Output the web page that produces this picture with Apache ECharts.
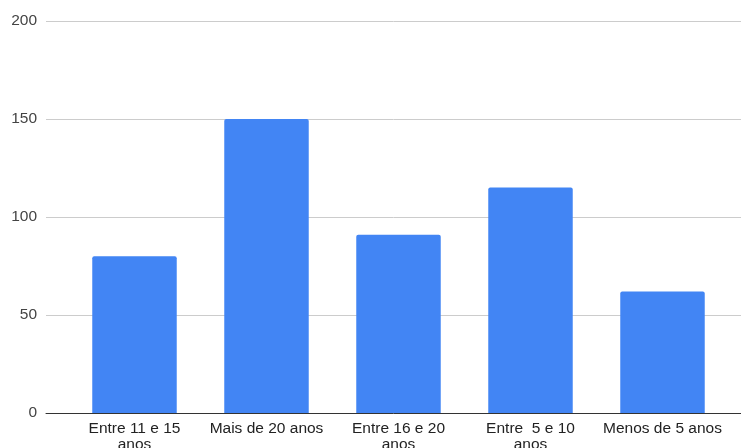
<!DOCTYPE html>
<html>
<head>
<meta charset="utf-8">
<script src="https://cdn.jsdelivr.net/npm/echarts@6/dist/echarts.min.js"></script>
<style>html,body{margin:0;padding:0;background:#fff;}#c{width:741px;height:448px;}</style>
</head>
<body>
<div id="c"></div>
<script>
const categories = ["Entre 11 e 15 anos", "Mais de 20 anos", "Entre 16 e 20 anos", "Entre  5 e 10 anos", "Menos de 5 anos"];
const tickLabels = ["Entre 11 e 15\nanos", "Mais de 20 anos", "Entre 16 e 20\nanos", "Entre  5 e 10\nanos", "Menos de 5 anos"];
const values = [80, 150, 91, 115, 62];
const yTicks = [0, 50, 100, 150, 200];

const chart = echarts.init(document.getElementById('c'), null, {renderer: 'canvas'});
chart.setOption({
  animation: false,
  backgroundColor: '#fff',
  grid: [
    {left: 46, right: 0, top: 21, bottom: 35, containLabel: false, outerBoundsMode: 'none'},
    {left: 68.5, right: 12.5, top: 21, bottom: 35, containLabel: false, outerBoundsMode: 'none'}
  ],
  xAxis: [
    {gridIndex: 0, type: 'category', data: [''], axisTick: {show: false}, axisLabel: {show: false},
     axisLine: {show: true, lineStyle: {color: '#333', width: 1}}},
    {gridIndex: 1, type: 'category', data: categories, axisTick: {show: false}, axisLine: {show: false},
     axisLabel: {color: '#222', fontSize: 15.5, fontFamily: 'Liberation Sans, Arial', lineHeight: 16, margin: 8,
       interval: 0, formatter: (v, i) => tickLabels[i]}}
  ],
  yAxis: [
    {gridIndex: 0, type: 'value', min: yTicks[0], max: yTicks[yTicks.length - 1], interval: 50,
     axisLine: {show: false}, axisTick: {show: false},
     axisLabel: {color: '#444', fontSize: 15.5, fontFamily: 'Liberation Sans, Arial', margin: 9},
     splitLine: {lineStyle: {color: '#ccc', width: 1}}},
    {gridIndex: 1, type: 'value', min: yTicks[0], max: yTicks[yTicks.length - 1], interval: 50, show: false,
     splitLine: {show: false}}
  ],
  series: [{
    type: 'bar', xAxisIndex: 1, yAxisIndex: 1, data: values, barWidth: '64%',
    itemStyle: {color: '#4285F4', borderRadius: [2, 2, 0, 0]}
  }]
});
</script>
</body>
</html>
